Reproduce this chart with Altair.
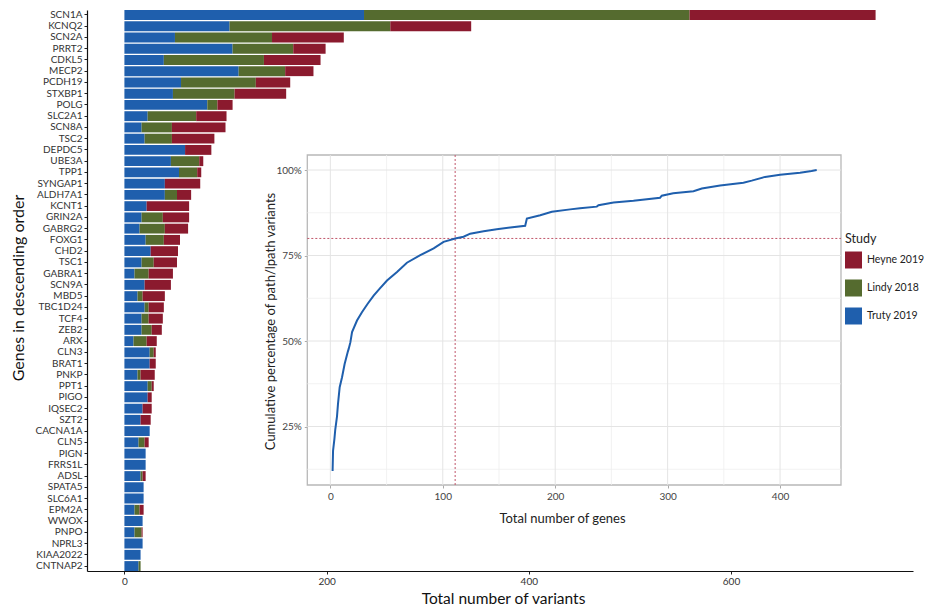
import altair as alt
import pandas as pd

# ---------------- data ----------------
genes = ["SCN1A", "KCNQ2", "SCN2A", "PRRT2", "CDKL5", "MECP2", "PCDH19", "STXBP1", "POLG",
         "SLC2A1", "SCN8A", "TSC2", "DEPDC5", "UBE3A", "TPP1", "SYNGAP1", "ALDH7A1", "KCNT1",
         "GRIN2A", "GABRG2", "FOXG1", "CHD2", "TSC1", "GABRA1", "SCN9A", "MBD5", "TBC1D24",
         "TCF4", "ZEB2", "ARX", "CLN3", "BRAT1", "PNKP", "PPT1", "PIGO", "IQSEC2", "SZT2",
         "CACNA1A", "CLN5", "PIGN", "FRRS1L", "ADSL", "SPATA5", "SLC6A1", "EPM2A", "WWOX",
         "PNPO", "NPRL3", "KIAA2022", "CNTNAP2"]
truty = [237, 104, 50, 107, 39, 113, 56, 48, 82, 23, 17, 20, 60, 46, 54, 40, 40, 22,
         17, 15, 21, 26, 17, 10, 20, 13, 20, 17, 17, 9, 25, 25, 13, 23, 23, 18, 16,
         25, 14, 21, 21, 16, 19, 19, 10, 18, 10, 18, 16, 14]
lindy = [322, 159, 96, 60, 99, 46, 74, 61, 10, 48, 30, 27, 0, 28, 18, 0, 12, 0,
         21, 25, 18, 0, 12, 14, 0, 5, 4, 7, 10, 13, 4, 0, 3, 4, 0, 0, 0,
         0, 6, 0, 0, 2, 0, 0, 5, 0, 7, 0, 0, 2]
heyne = [184, 80, 71, 32, 56, 28, 34, 51, 15, 30, 53, 42, 26, 4, 4, 35, 14, 42,
         26, 23, 16, 27, 23, 24, 26, 22, 15, 14, 10, 10, 2, 6, 14, 2, 4, 9, 10,
         0, 4, 0, 0, 3, 0, 0, 4, 0, 1, 0, 0, 0]

studies = ["Heyne 2019", "Lindy 2018", "Truty 2019"]
study_colors = ["#8b1a2e", "#556b2f", "#1f5fad"]
stack_rank = {"Truty 2019": 0, "Lindy 2018": 1, "Heyne 2019": 2}

main_x_ticks = [0, 200, 400, 600]

curve_genes = [2, 2.4, 3.6, 4.4, 5.9, 6.8, 8.3, 10.4, 12.7, 15.4, 16.3, 17.8, 19.3, 23.7,
               28.1, 33.2, 38.5, 43.9, 50.4, 59.3, 68.1, 80, 91.9, 100.7, 111, 118.5,
               124.4, 136.3, 148, 160, 173.3, 174.8, 186.7, 197, 213.3, 222, 237, 238.5,
               251.9, 269.6, 293.3, 294.8, 305, 323, 330.4, 346.7, 367.4, 374.8, 386.7,
               400, 417.8, 428, 432.6]
curve_pct = [12.0, 17.9, 21.3, 24.2, 27.9, 31.6, 36.5, 39.4, 43.3, 46.7, 47.7, 49.6, 52.6,
             56.0, 58.4, 60.9, 63.3, 65.3, 67.7, 70.2, 72.9, 75.1, 77.1, 79.0, 80.0, 80.5,
             81.4, 82.1, 82.7, 83.2, 83.7, 85.8, 86.8, 87.8, 88.5, 88.8, 89.3, 89.7,
             90.5, 91.0, 91.9, 92.5, 93.2, 93.8, 94.6, 95.5, 96.3, 96.9, 98.0,
             98.6, 99.2, 99.7, 100.0]

inset_x_major = [0, 100, 200, 300, 400]
inset_x_minor = [50, 150, 250, 350]
inset_y_major = [25, 50, 75, 100]
inset_y_minor = [12.5, 37.5, 62.5, 87.5]
cutoff_genes = [111]
cutoff_pct = [80]

# ---------------- layout ----------------
W, H = 826, 561
FONT = "Lato"
ix_dom = [-20.5, 454.2]
iy_dom = [7.9, 104.4]
ix_rng = [220.3, 754]
iy_rng = [475, 145]

rows = []
for i, g in enumerate(genes):
    for s, vals in (("Truty 2019", truty), ("Lindy 2018", lindy), ("Heyne 2019", heyne)):
        rows.append({"gene": g, "study": s, "value": vals[i], "rank": stack_rank[s]})
bars_df = pd.DataFrame(rows)

main = alt.Chart(bars_df).mark_bar().encode(
    y=alt.Y("gene:N", sort=genes,
            scale=alt.Scale(paddingInner=0.12, paddingOuter=0),
            axis=alt.Axis(title="Genes in descending order", titleX=-69, titleY=H / 2 - 3,
                          titleAngle=-90, titleBaseline="middle", titleAlign="center",
                          titleFontSize=16, titleFontWeight="normal", titleColor="#111",
                          labelFontSize=10, labelColor="#333", labelPadding=2,
                          tickColor="#222", tickSize=3, domainColor="#111", domainWidth=1.2,
                          grid=False)),
    x=alt.X("value:Q", stack="zero",
            scale=alt.Scale(domain=[-37, 780], nice=False, zero=False),
            axis=alt.Axis(values=main_x_ticks, title="Total number of variants",
                          titleX=W / 2 + 3, titleY=27, titleBaseline="middle",
                          titleFontSize=15.5, titleFontWeight="normal", titleColor="#111",
                          labelFontSize=10, labelColor="#333", labelPadding=2,
                          tickColor="#222", tickSize=3, domainColor="#111", domainWidth=1.2,
                          grid=False)),
    color=alt.Color("study:N", scale=alt.Scale(domain=studies, range=study_colors),
                    legend=alt.Legend(title="Study", orient="none", legendX=758, legendY=223,
                                      symbolType="square", symbolSize=289,
                                      symbolStrokeWidth=0, symbolOpacity=1,
                                      titleFontSize=12.5, titleFontWeight="normal",
                                      titleColor="#222", titlePadding=6,
                                      labelFontSize=10.5, labelColor="#222", labelOffset=5,
                                      rowPadding=11, padding=0)),
    order=alt.Order("rank:Q"),
)

ixs = alt.Scale(domain=ix_dom, range=ix_rng, nice=False, zero=False)
iys = alt.Scale(domain=iy_dom, range=iy_rng, nice=False, zero=False)
ix_axis = alt.Axis(orient="bottom", offset=-(H - iy_rng[0]), values=inset_x_major,
                   title="Total number of genes", titleX=475, titleY=33,
                   titleBaseline="middle", titleFontSize=13, titleFontWeight="normal",
                   titleColor="#222", labelFontSize=10, labelColor="#444", labelPadding=3,
                   tickColor="#aaa", tickSize=3, domain=False, grid=False)
iy_axis = alt.Axis(orient="left", offset=-ix_rng[0], values=inset_y_major,
                   labelExpr="datum.value + '%'",
                   title="Cumulative percentage of path/lpath variants",
                   titleX=-37.3, titleY=311, titleAngle=-90, titleBaseline="middle",
                   titleAlign="center", titleFontSize=13, titleFontWeight="normal",
                   titleColor="#222", labelFontSize=10, labelColor="#444", labelPadding=3,
                   tickColor="#aaa", tickSize=3, domain=False, grid=False)


def IX(f):
    return alt.X(f, type="quantitative", scale=ixs, axis=ix_axis)


def IY(f):
    return alt.Y(f, type="quantitative", scale=iys, axis=iy_axis)


panel_df = pd.DataFrame({"x0": [ix_dom[0]], "x1": [ix_dom[1]], "y0": [iy_dom[0]], "y1": [iy_dom[1]]})
panel = alt.Chart(panel_df).mark_rect(fill="white", stroke="#b8b8b8", strokeWidth=1.3).encode(
    x=IX("x0"), x2="x1", y=IY("y0"), y2="y1")

gx_major = alt.Chart(pd.DataFrame({"x0": inset_x_major, "y0": iy_dom[0], "y1": iy_dom[1]})).mark_rule(
    color="#e4e4e4", strokeWidth=1).encode(x=IX("x0"), y=IY("y0"), y2="y1")
gx_minor = alt.Chart(pd.DataFrame({"x0": inset_x_minor, "y0": iy_dom[0], "y1": iy_dom[1]})).mark_rule(
    color="#efefef", strokeWidth=0.8).encode(x=IX("x0"), y=IY("y0"), y2="y1")
gy_major = alt.Chart(pd.DataFrame({"y0": inset_y_major, "x0": ix_dom[0], "x1": ix_dom[1]})).mark_rule(
    color="#e4e4e4", strokeWidth=1).encode(y=IY("y0"), x=IX("x0"), x2="x1")
gy_minor = alt.Chart(pd.DataFrame({"y0": inset_y_minor, "x0": ix_dom[0], "x1": ix_dom[1]})).mark_rule(
    color="#efefef", strokeWidth=0.8).encode(y=IY("y0"), x=IX("x0"), x2="x1")

vline = alt.Chart(pd.DataFrame({"x0": cutoff_genes, "y0": iy_dom[0], "y1": iy_dom[1]})).mark_rule(
    color="#c0566a", strokeWidth=1, strokeDash=[2, 2]).encode(x=IX("x0"), y=IY("y0"), y2="y1")
hline = alt.Chart(pd.DataFrame({"y0": cutoff_pct, "x0": ix_dom[0], "x1": ix_dom[1]})).mark_rule(
    color="#c0566a", strokeWidth=1, strokeDash=[2, 2]).encode(y=IY("y0"), x=IX("x0"), x2="x1")

curve = alt.Chart(pd.DataFrame({"x0": curve_genes, "y0": curve_pct})).mark_line(
    color="#1f5fad", strokeWidth=2).encode(x=IX("x0"), y=IY("y0"))

inset = alt.layer(panel, gx_minor, gy_minor, gx_major, gy_major, vline, hline, curve)

chart = alt.layer(main, inset).resolve_scale(
    x="independent", y="independent"
).properties(
    width=W, height=H,
    autosize=alt.AutoSizeParams(type="none"),
    padding={"left": 79, "top": 2, "right": 12, "bottom": 34},
).configure(font=FONT).configure_view(stroke=None).configure_axis(
    labelFont=FONT, titleFont=FONT
).configure_legend(labelFont=FONT, titleFont=FONT)

chart.save("out.html", embed_options={"renderer": "svg", "actions": False})
